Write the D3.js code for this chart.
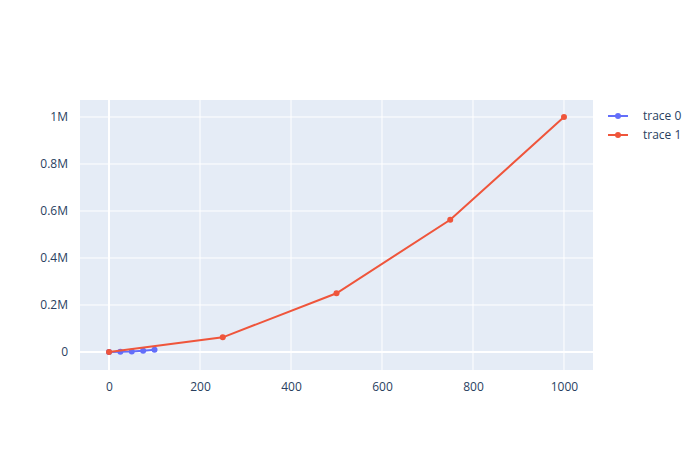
<!DOCTYPE html>
<html><head><meta charset="utf-8">
<script src="https://cdn.jsdelivr.net/npm/d3@7"></script>
<style>body{margin:0;background:#fff}svg{font-family:"Open Sans",sans-serif}</style>
</head><body><svg id="c" width="700" height="450"></svg>
<script>
const trace0X = [0, 25, 50, 75, 100];
const trace0Y = [0, 625, 2500, 5625, 10000];
const trace1X = [0, 250, 500, 750, 1000];
const trace1Y = [0, 62500, 250000, 562500, 1000000];
const seriesNames = ["trace 0", "trace 1"];
const colors = ["#636efa", "#EF553B"];
const xTicks = [0, 200, 400, 600, 800, 1000];
const yTicks = [0, 200000, 400000, 600000, 800000, 1000000];
const yTickLabels = ["0", "0.2M", "0.4M", "0.6M", "0.8M", "1M"];

const svg = d3.select("#c");
const L = 80, R = 593, T = 100, B = 370;
const x = d3.scaleLinear().domain([-63.8, 1063.8]).range([L, R]);
const y = d3.scaleLinear().domain([-76600, 1072300]).range([B, T]);

svg.append("rect").attr("x", L).attr("y", T).attr("width", R - L).attr("height", B - T).attr("fill", "#E5ECF6");

const gx = svg.append("g").attr("transform", `translate(0,${B})`)
  .call(d3.axisBottom(x).tickValues(xTicks).tickSize(0).tickPadding(12).tickFormat(d3.format("d")));
gx.select(".domain").remove();
gx.selectAll("text").attr("fill", "#2a3f5f").attr("font-size", 12).attr("font-family", '"Open Sans",sans-serif');

const gy = svg.append("g").attr("transform", `translate(${L},0)`)
  .call(d3.axisLeft(y).tickValues(yTicks).tickSize(0).tickPadding(12).tickFormat((d, i) => yTickLabels[i]));
gy.select(".domain").remove();
gy.selectAll("text").attr("fill", "#2a3f5f").attr("font-size", 12).attr("font-family", '"Open Sans",sans-serif');

svg.append("g").selectAll("line").data(xTicks).join("line")
  .attr("x1", d => x(d)).attr("x2", d => x(d)).attr("y1", T).attr("y2", B)
  .attr("stroke", "#fff").attr("stroke-width", d => d === 0 ? 2 : 1);
svg.append("g").selectAll("line").data(yTicks).join("line")
  .attr("x1", L).attr("x2", R).attr("y1", d => y(d)).attr("y2", d => y(d))
  .attr("stroke", "#fff").attr("stroke-width", d => d === 0 ? 2 : 1);

const series = [
  trace0X.map((v, i) => [v, trace0Y[i]]),
  trace1X.map((v, i) => [v, trace1Y[i]])
];
const line = d3.line().x(d => x(d[0])).y(d => y(d[1]));
series.forEach((s, k) => {
  svg.append("path").datum(s).attr("d", line).attr("fill", "none")
    .attr("stroke", colors[k]).attr("stroke-width", 2);
  svg.append("g").selectAll("circle").data(s).join("circle")
    .attr("cx", d => x(d[0])).attr("cy", d => y(d[1])).attr("r", 3)
    .attr("fill", colors[k]);
});

const lg = svg.append("g");
seriesNames.forEach((n, k) => {
  const yy = 116 + k * 19;
  lg.append("line").attr("x1", 608).attr("x2", 628).attr("y1", yy).attr("y2", yy)
    .attr("stroke", colors[k]).attr("stroke-width", 2);
  lg.append("circle").attr("cx", 618).attr("cy", yy).attr("r", 3).attr("fill", colors[k]);
  lg.append("text").attr("x", 643).attr("y", yy).attr("dy", "0.35em")
    .attr("font-size", 12).attr("fill", "#2a3f5f").text(n);
});
</script></body></html>
